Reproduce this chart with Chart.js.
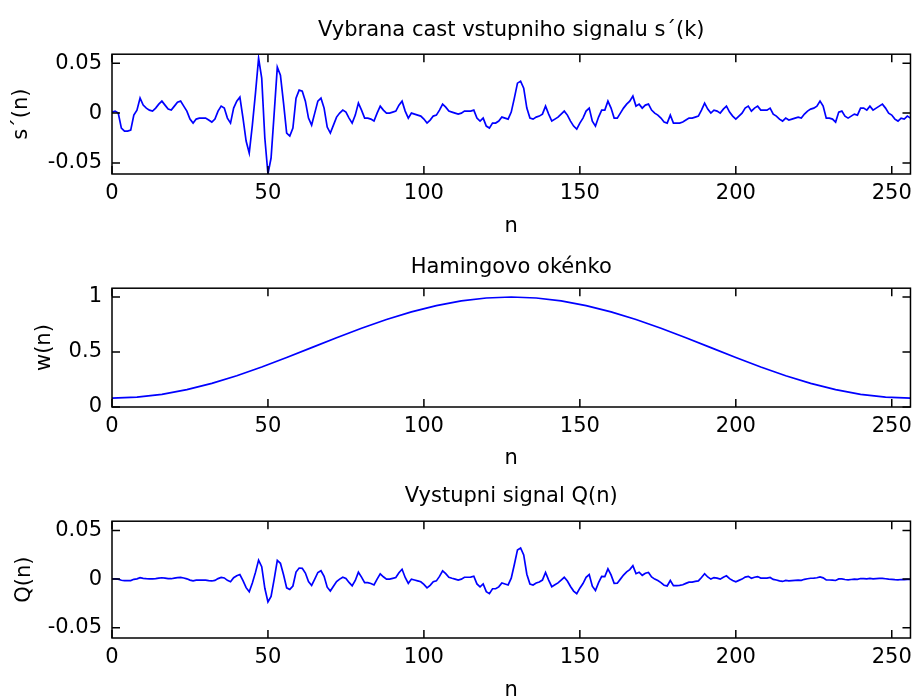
<!DOCTYPE html>
<html>
<head>
<meta charset="utf-8">
<script src="https://cdn.jsdelivr.net/npm/chart.js@4/dist/chart.umd.min.js"></script>
<style>
  html, body { margin: 0; padding: 0; background: #fff; overflow: hidden; }
  canvas { position: absolute; left: 0; }
</style>
</head>
<body>
<canvas id="ch_s" width="919" height="240" style="top:0px"></canvas>
<canvas id="ch_w" width="919" height="232" style="top:240px"></canvas>
<canvas id="ch_q" width="919" height="235" style="top:472px"></canvas>
<script>
/* ── data ──────────────────────────────────────────────────────── */
const xTicks = [0, 50, 100, 150, 200, 250];
const sTicks = [-0.05, 0, 0.05];
const wTicks = [0, 0.5, 1];
const qTicks = [-0.05, 0, 0.05];

// s'(n), n = 0..256
const sVals = [
  0.001, 0.002, 0, -0.015, -0.018, -0.018, -0.017, -0.002, 0.003, 0.015,
  0.008, 0.005, 0.003, 0.002, 0.005, 0.009, 0.012, 0.008, 0.004, 0.003,
  0.007, 0.011, 0.012, 0.007, 0.002, -0.006, -0.010, -0.006, -0.005, -0.005,
  -0.005, -0.007, -0.009, -0.006, 0.002, 0.007, 0.005, -0.005, -0.010, 0.005,
  0.012, 0.016, -0.005, -0.028, -0.040, -0.012, 0.020, 0.055, 0.035, -0.025,
  -0.061, -0.045, 0.000, 0.046, 0.038, 0.010, -0.020, -0.023, -0.015, 0.015,
  0.023, 0.022, 0.012, -0.005, -0.012, 0.000, 0.012, 0.015, 0.005, -0.014,
  -0.020, -0.012, -0.004, 0.000, 0.003, 0.001, -0.005, -0.010, -0.002, 0.010,
  0.003, -0.005, -0.005, -0.006, -0.008, 0.000, 0.007, 0.003, 0.000, 0.000,
  0.001, 0.002, 0.008, 0.012, 0.002, -0.005, 0.000, -0.001, -0.002, -0.003,
  -0.006, -0.010, -0.007, -0.003, -0.002, 0.003, 0.009, 0.006, 0.002, 0.001,
  0.000, -0.001, 0.000, 0.002, 0.002, 0.002, 0.003, -0.005, -0.008, -0.005,
  -0.013, -0.015, -0.010, -0.010, -0.008, -0.004, -0.005, -0.006, 0.001, 0.015,
  0.030, 0.032, 0.025, 0.005, -0.005, -0.006, -0.004, -0.003, -0.001, 0.007,
  -0.001, -0.008, -0.006, -0.004, -0.001, 0.002, -0.002, -0.008, -0.013, -0.016,
  -0.010, -0.005, 0.002, 0.005, -0.008, -0.013, -0.004, 0.003, 0.003, 0.012,
  0.005, -0.005, -0.005, 0.000, 0.005, 0.009, 0.012, 0.017, 0.007, 0.009,
  0.005, 0.008, 0.009, 0.003, 0.000, -0.002, -0.005, -0.009, -0.010, -0.002,
  -0.010, -0.010, -0.010, -0.009, -0.007, -0.005, -0.005, -0.004, -0.003, 0.003,
  0.010, 0.004, 0.000, 0.003, 0.002, 0.000, 0.004, 0.007, 0.001, -0.003,
  -0.006, -0.003, 0.000, 0.005, 0.007, 0.002, 0.005, 0.007, 0.003, 0.003,
  0.003, 0.005, -0.001, -0.003, -0.006, -0.008, -0.005, -0.007, -0.006, -0.005,
  -0.004, -0.005, -0.001, 0.002, 0.004, 0.005, 0.007, 0.012, 0.007, -0.005,
  -0.005, -0.006, -0.009, 0.001, 0.002, -0.003, -0.005, -0.003, -0.001, -0.002,
  0.005, 0.005, 0.003, 0.007, 0.003, 0.005, 0.007, 0.009, 0.005, 0.000,
  -0.002, -0.006, -0.008, -0.005, -0.006, -0.003, -0.005
];

// Hamming window, read every 8 samples
const wN = [0, 8, 16, 24, 32, 40, 48, 56, 64, 72, 80, 88, 96, 104, 112, 120, 128,
            136, 144, 152, 160, 168, 176, 184, 192, 200, 208, 216, 224, 232, 240, 248, 256];
const wVals = [0.080, 0.089, 0.115, 0.158, 0.215, 0.284, 0.364, 0.450, 0.540, 0.630, 0.716,
               0.796, 0.865, 0.922, 0.965, 0.991, 1.000, 0.991, 0.965, 0.922, 0.865, 0.796,
               0.716, 0.630, 0.540, 0.450, 0.364, 0.284, 0.215, 0.158, 0.115, 0.089, 0.080];

// Q(n), n = 0..256
const qVals = [
  0.0001, 0.0002, 0, -0.0012, -0.0015, -0.0015, -0.0015, -0.0002, 0.0003, 0.0014,
  0.0008, 0.0005, 0.0003, 0.0002, 0.0005, 0.0010, 0.0014, 0.0010, 0.0005, 0.0004,
  0.0010, 0.0016, 0.0018, 0.0011, 0.0003, -0.0010, -0.0017, -0.0011, -0.0009, -0.0010,
  -0.0010, -0.0015, -0.0019, -0.0013, 0.0005, 0.0017, 0.0012, -0.0013, -0.0027, 0.0014,
  0.0034, 0.0047, -0.0015, -0.0088, -0.0130, -0.0040, 0.0069, 0.0195, 0.0127, -0.0094,
  -0.0235, -0.0178, 0, 0.0192, 0.0163, 0.0044, -0.0090, -0.0106, -0.0071, 0.0073,
  0.0114, 0.0111, 0.0062, -0.0026, -0.0065, 0, 0.0068, 0.0086, 0.0029, -0.0083,
  -0.0122, -0.0074, -0.0025, 0, 0.0020, 0.0007, -0.0034, -0.0068, -0.0014, 0.0071,
  0.0021, -0.0036, -0.0037, -0.0045, -0.0060, 0, 0.0054, 0.0024, 0, 0,
  0.0008, 0.0016, 0.0066, 0.0101, 0.0017, -0.0043, 0, -0.0009, -0.0018, -0.0027,
  -0.0054, -0.0090, -0.0064, -0.0027, -0.0018, 0.0028, 0.0084, 0.0056, 0.0019, 0.0009,
  0, -0.0010, 0, 0.0019, 0.0019, 0.0020, 0.0029, -0.0049, -0.0079, -0.0049,
  -0.0129, -0.0149, -0.0099, -0.0099, -0.0080, -0.0040, -0.0050, -0.0060, 0.0010, 0.0150,
  0.0300, 0.0320, 0.0249, 0.0050, -0.0050, -0.0060, -0.0040, -0.0030, -0.0010, 0.0069,
  -0.0010, -0.0078, -0.0058, -0.0039, -0.0010, 0.0019, -0.0019, -0.0076, -0.0123, -0.0150,
  -0.0093, -0.0046, 0.0018, 0.0046, -0.0073, -0.0117, -0.0036, 0.0027, 0.0026, 0.0105,
  0.0043, -0.0043, -0.0042, 0, 0.0042, 0.0074, 0.0098, 0.0137, 0.0056, 0.0071,
  0.0039, 0.0061, 0.0068, 0.0022, 0, -0.0015, -0.0036, -0.0063, -0.0070, -0.0014,
  -0.0067, -0.0066, -0.0065, -0.0058, -0.0044, -0.0031, -0.0030, -0.0024, -0.0018, 0.0017,
  0.0056, 0.0022, 0, 0.0016, 0.0010, 0, 0.0020, 0.0034, 0.0005, -0.0014,
  -0.0027, -0.0013, 0, 0.0021, 0.0028, 0.0008, 0.0019, 0.0026, 0.0011, 0.0011,
  0.0010, 0.0017, -0.0003, -0.0009, -0.0018, -0.0024, -0.0014, -0.0019, -0.0016, -0.0013,
  -0.0010, -0.0012, -0.0002, 0.0004, 0.0009, 0.0010, 0.0014, 0.0023, 0.0013, -0.0009,
  -0.0009, -0.0010, -0.0014, 0.0002, 0.0003, -0.0004, -0.0007, -0.0004, -0.0001, -0.0002,
  0.0006, 0.0006, 0.0003, 0.0007, 0.0003, 0.0005, 0.0007, 0.0008, 0.0004, 0,
  -0.0002, -0.0005, -0.0007, -0.0004, -0.0005, -0.0002, -0.0004
];

/* ── helpers ───────────────────────────────────────────────────── */
const FONT = { family: 'DejaVu Sans', size: 21, weight: 'normal' };
const TICK = 8;

// MATLAB-style box with inward ticks on all four sides
const boxTicks = {
  id: 'boxTicks',
  afterDraw(chart) {
    const { ctx, chartArea: a, scales: { x, y } } = chart;
    ctx.save();
    ctx.strokeStyle = '#000';
    ctx.lineWidth = 1.5;
    ctx.strokeRect(a.left, a.top, a.right - a.left, a.bottom - a.top);
    ctx.beginPath();
    x.ticks.forEach(t => {
      const px = x.getPixelForValue(t.value);
      ctx.moveTo(px, a.bottom); ctx.lineTo(px, a.bottom - TICK);
      ctx.moveTo(px, a.top);    ctx.lineTo(px, a.top + TICK);
    });
    y.ticks.forEach(t => {
      const py = y.getPixelForValue(t.value);
      ctx.moveTo(a.left, py);  ctx.lineTo(a.left + TICK, py);
      ctx.moveTo(a.right, py); ctx.lineTo(a.right - TICK, py);
    });
    ctx.stroke();
    ctx.restore();
  }
};

function drawPlot(id, o) {
  const canvas = document.getElementById(id);
  return new Chart(canvas.getContext('2d'), {
    type: 'line',
    data: {
      datasets: [{
        data: o.points,
        borderColor: '#0000ff',
        borderWidth: 1.7,
        pointRadius: 0,
        tension: 0,
        fill: false
      }]
    },
    options: {
      responsive: false,
      animation: false,
      layout: { padding: { left: 0, right: 3, top: 0, bottom: 0 } },
      plugins: {
        legend: { display: false },
        tooltip: { enabled: false },
        title: {
          display: true,
          text: o.title,
          fullSize: false,
          color: '#000',
          font: FONT,
          padding: o.titlePad
        }
      },
      scales: {
        x: {
          type: 'linear', min: 0, max: 256,
          grid: { display: false, drawTicks: false },
          border: { display: false },
          afterBuildTicks: s => { s.ticks = xTicks.map(v => ({ value: v })); },
          afterFit: s => { s.height = o.xAxisH; },
          ticks: { color: '#000', font: FONT, padding: 7, maxRotation: 0, autoSkip: false,
                   callback: v => String(v) },
          title: { display: true, text: 'n', color: '#000', font: FONT,
                   padding: { top: 0, bottom: o.nPad } }
        },
        y: {
          type: 'linear', min: o.yMin, max: o.yMax,
          grid: { display: false, drawTicks: false },
          border: { display: false },
          afterBuildTicks: s => { s.ticks = o.yTicks.map(v => ({ value: v })); },
          afterFit: s => { s.width = 112; },
          ticks: { color: '#000', font: FONT, padding: 10, autoSkip: false,
                   callback: v => String(v) },
          title: { display: true, text: o.yLabel, color: '#000', font: FONT,
                   padding: { top: o.yLabelPad, bottom: 0 } }
        }
      }
    },
    plugins: [boxTicks]
  });
}

/* ── the three panels ──────────────────────────────────────────── */
drawPlot('ch_s', {
  title: 'Vybrana cast vstupniho signalu s\u00B4(k)',
  titlePad: { top: 18, bottom: 11 },
  points: sVals.map((v, n) => ({ x: n, y: v })),
  yMin: -0.061, yMax: 0.059, yTicks: sTicks,
  yLabel: 's\u00B4(n)', yLabelPad: 9,
  xAxisH: 66, nPad: 1
});

drawPlot('ch_w', {
  title: 'Hamingovo ok\u00E9nko',
  titlePad: { top: 15, bottom: 8 },
  points: wVals.map((v, i) => ({ x: wN[i], y: v })),
  yMin: 0, yMax: 1.08, yTicks: wTicks,
  yLabel: 'w(n)', yLabelPad: 32,
  xAxisH: 65, nPad: 1
});

drawPlot('ch_q', {
  title: 'Vystupni signal Q(n)',
  titlePad: { top: 12, bottom: 12 },
  points: qVals.map((v, n) => ({ x: n, y: v })),
  yMin: -0.0605, yMax: 0.0595, yTicks: qTicks,
  yLabel: 'Q(n)', yLabelPad: 12,
  xAxisH: 69, nPad: 4
});
</script>
</body>
</html>
